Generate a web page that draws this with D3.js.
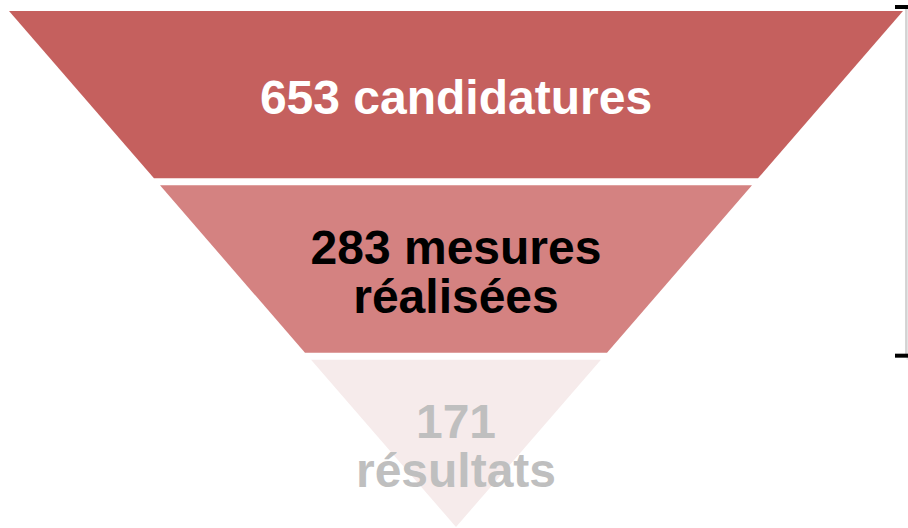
<!DOCTYPE html>
<html lang="fr">
<head>
<meta charset="utf-8">
<script src="https://d3js.org/d3.v7.min.js"></script>
<style>
  html, body { margin: 0; padding: 0; background: #ffffff; }
  svg { display: block; }
  .label { font-family: "Liberation Sans", Arial, sans-serif; font-weight: bold; text-anchor: middle; }
</style>
</head>
<body>
<script>
// funnel stages
var stageValues = [653, 283, 171];
var stageLines = [["653 candidatures"], ["283 mesures", "réalisées"], ["171", "résultats"]];
var stageColors = ["#c5605e", "#d48281", "#f6ebeb"];
var textColors = ["#ffffff", "#000000", "#bfbfbf"];

var width = 908, height = 528;
var cx = 456, funnelTop = 11, funnelTip = 527, halfTop = 447;
var fontSize = 48, lineH = 49;

var svg = d3.select("body").append("svg")
    .attr("width", width)
    .attr("height", height);

// vertical position of each stage
var y = d3.scaleBand()
    .domain(stageValues)
    .range([funnelTop, funnelTip])
    .paddingInner(0.04);

// half width of the funnel at a given y
var hw = d3.scaleLinear()
    .domain([funnelTop, funnelTip])
    .range([halfTop, 0]);

var bands = svg.selectAll("g.stage")
    .data(stageValues)
    .enter().append("g")
    .attr("class", "stage");

bands.append("path")
    .attr("d", function(d) {
        var y0 = y(d), y1 = y(d) + y.bandwidth();
        return "M" + (cx - hw(y0)) + "," + y0 +
               "L" + (cx + hw(y0)) + "," + y0 +
               "L" + (cx + hw(y1)) + "," + y1 +
               "L" + (cx - hw(y1)) + "," + y1 + "Z";
    })
    .style("fill", function(d, i) { return stageColors[i]; });

bands.each(function(d, i) {
    var lines = stageLines[i];
    var mid = y(d) + y.bandwidth() / 2;
    d3.select(this).selectAll("text")
        .data(lines)
        .enter().append("text")
        .attr("class", "label")
        .attr("x", cx)
        .attr("y", function(t, j) { return mid + (j - (lines.length - 1) / 2) * lineH + 0.4 * fontSize; })
        .style("font-size", fontSize + "px")
        .style("fill", textColors[i])
        .text(function(t) { return t; });
});

// bracket on the right covering the first two stages
var bTop = y(stageValues[0]) - 4;
var bBot = y(stageValues[1]) + y.bandwidth() + 3;
svg.append("line")
    .attr("x1", 907.5).attr("x2", 907.5)
    .attr("y1", bTop + 2).attr("y2", bBot + 4)
    .style("stroke", "#e4e4e4")
    .style("stroke-width", 2);
svg.append("line")
    .attr("x1", 906).attr("x2", 906)
    .attr("y1", bTop).attr("y2", bBot)
    .style("stroke", "#c8c8c8")
    .style("stroke-width", 1.5);
svg.selectAll("line.tick")
    .data([bTop, bBot])
    .enter().append("line")
    .attr("class", "tick")
    .attr("x1", 895).attr("x2", 908)
    .attr("y1", function(d) { return d; })
    .attr("y2", function(d) { return d; })
    .style("stroke", "#000")
    .style("stroke-width", 4);
</script>
</body>
</html>
